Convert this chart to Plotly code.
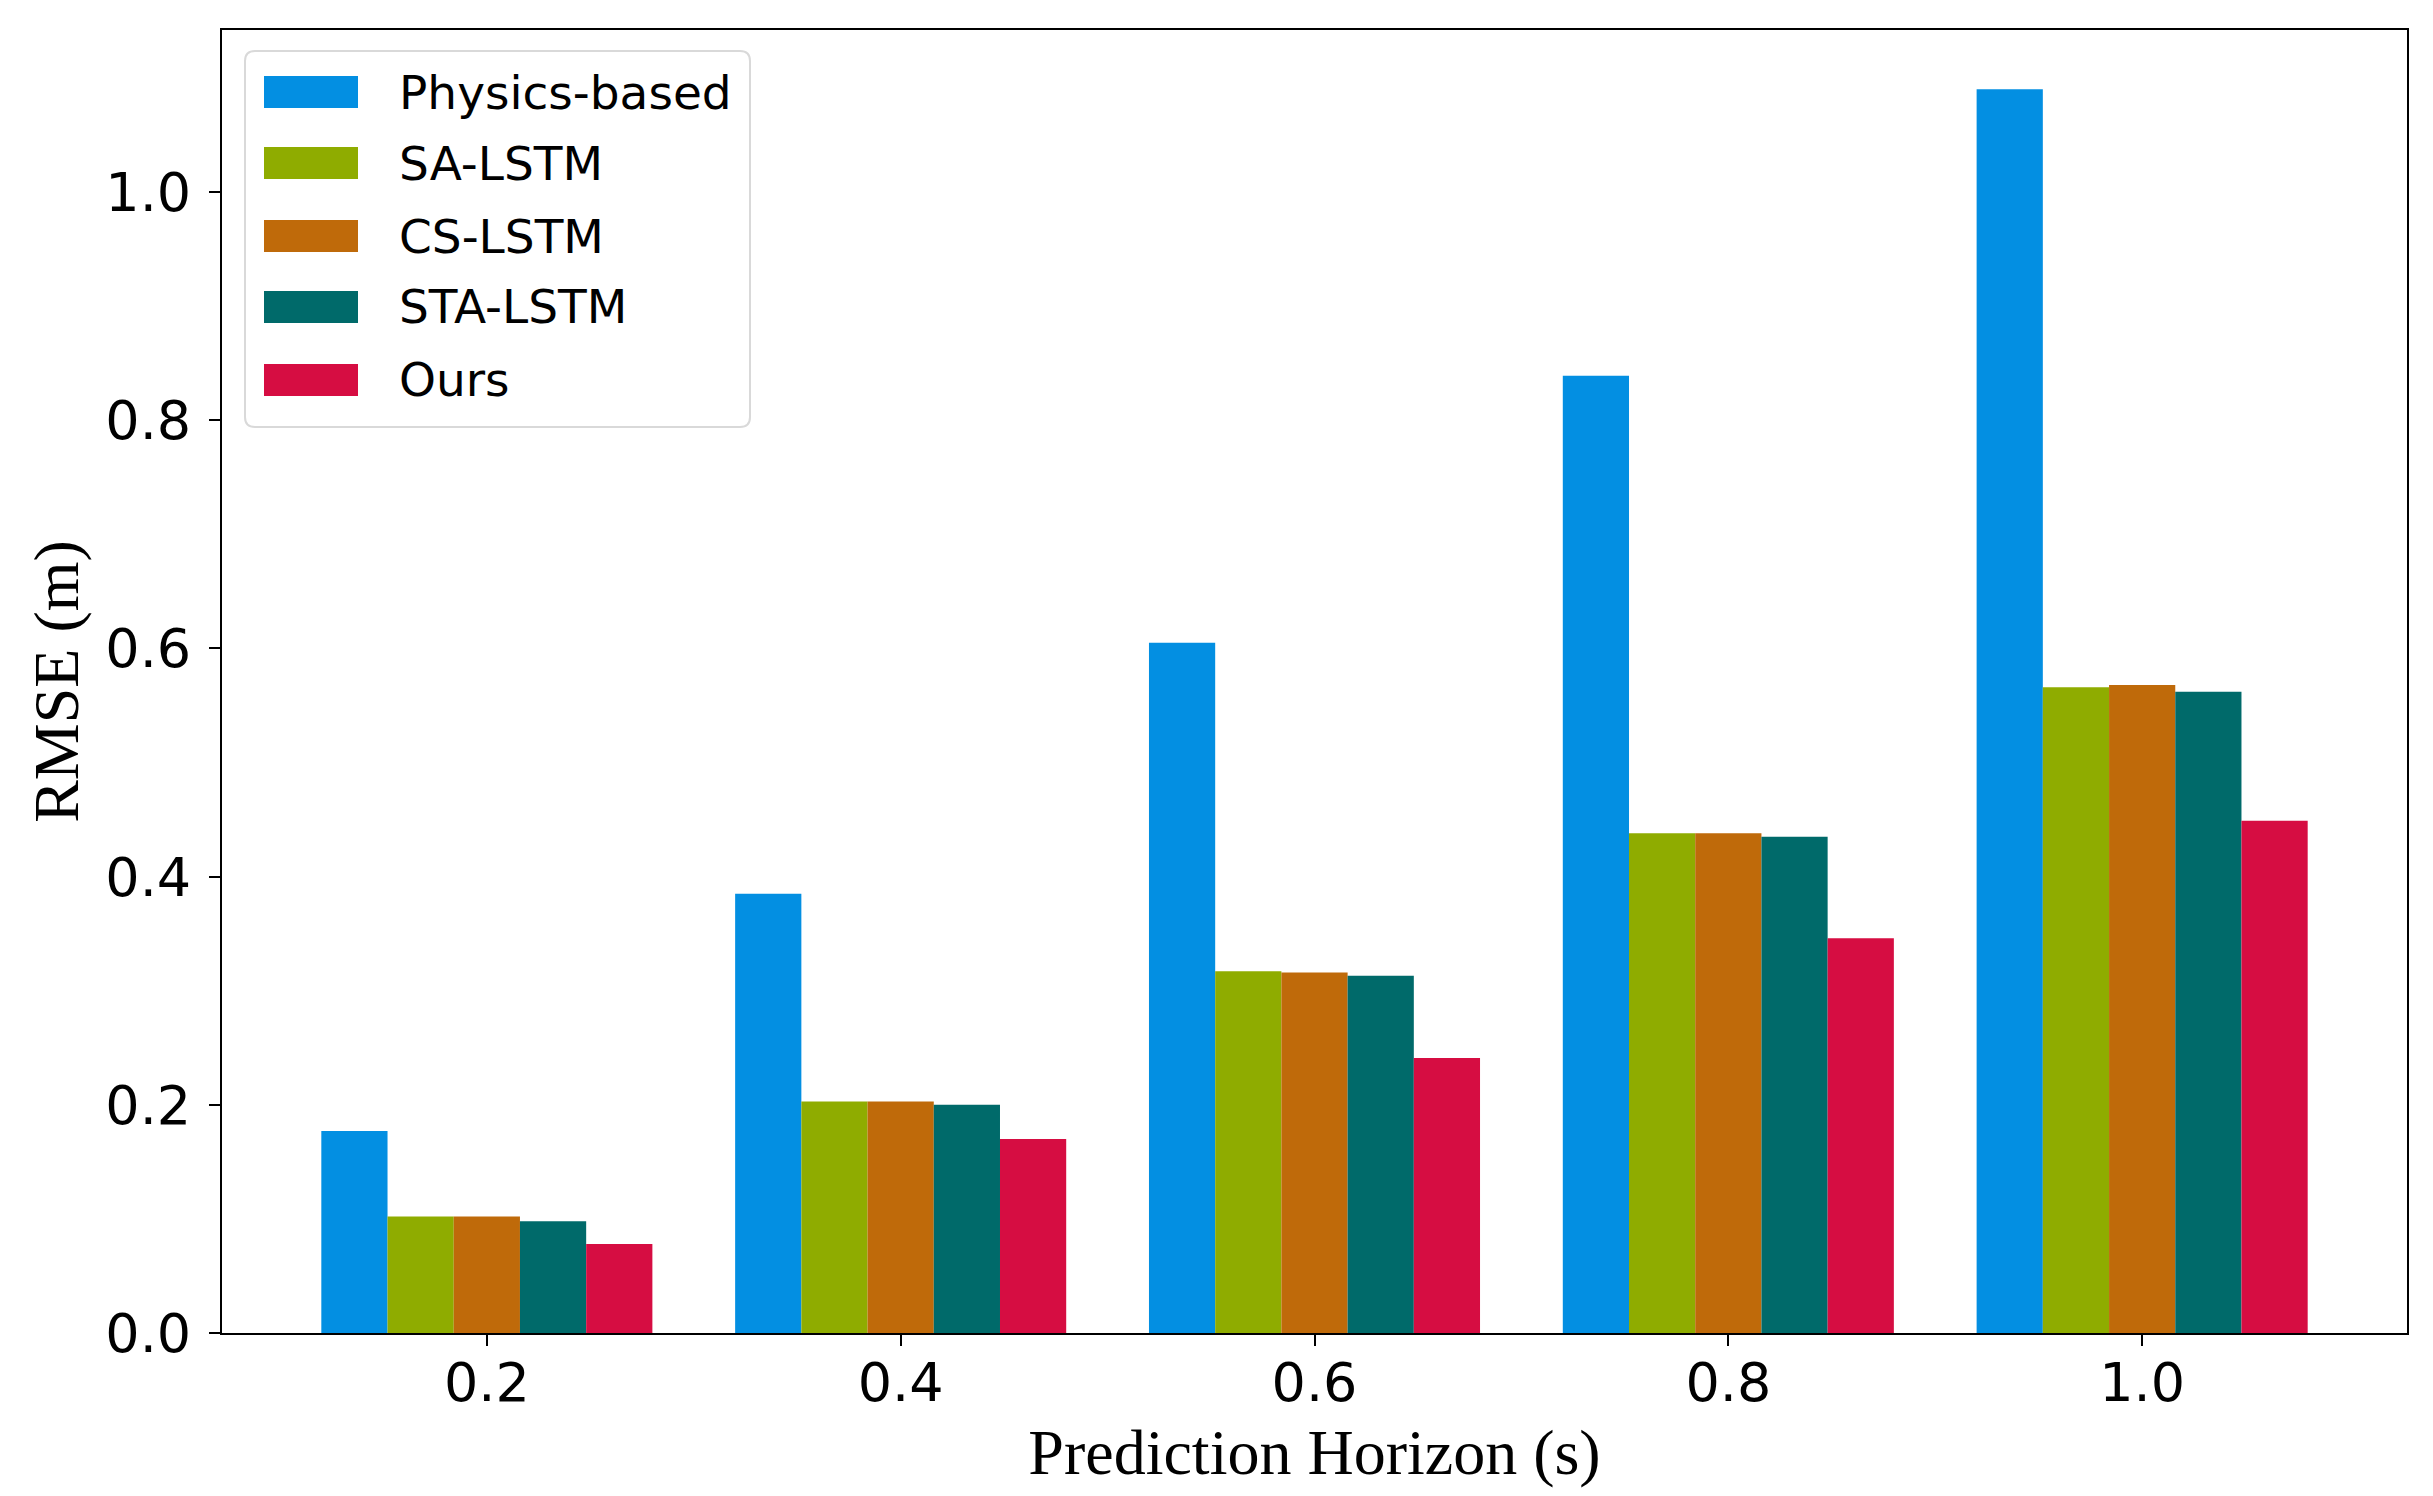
import plotly.graph_objects as go

horizons = ["0.2", "0.4", "0.6", "0.8", "1.0"]
methods = ["Physics-based", "SA-LSTM", "CS-LSTM", "STA-LSTM", "Ours"]
physics_based = [0.177, 0.385, 0.605, 0.839, 1.090]
sa_lstm = [0.102, 0.203, 0.317, 0.438, 0.566]
cs_lstm = [0.102, 0.203, 0.316, 0.438, 0.568]
sta_lstm = [0.098, 0.200, 0.313, 0.435, 0.562]
ours = [0.078, 0.170, 0.241, 0.346, 0.449]
colors = ["#038fe2", "#8fac00", "#bf6a0a", "#006a6a", "#d60d42"]
yticks = [0.0, 0.2, 0.4, 0.6, 0.8, 1.0]

series = [physics_based, sa_lstm, cs_lstm, sta_lstm, ours]

OFF = 8  # page body margin
W, H = 2433, 1496
L, R, T, B = 222 - OFF, 2407 - OFF, 30 - OFF, 1333 - OFF

fig = go.Figure()
for name, vals, col in zip(methods, series, colors):
    fig.add_trace(go.Bar(x=horizons, y=vals, name=name, marker=dict(color=col, line=dict(width=0)),
                         showlegend=False))

def px(x):
    return (x - OFF - L) / (R - L)

def py(y):
    return (B - (y - OFF)) / (B - T)

# legend frame (rounded)
x0, x1, y0, y1 = 245, 750, 51, 427
r = 10
rx = r / (R - L)
ry = r / (B - T)
X0, X1, Y0, Y1 = px(x0), px(x1), py(y1), py(y0)
path = (f"M{X0+rx},{Y0} L{X1-rx},{Y0} Q{X1},{Y0} {X1},{Y0+ry} L{X1},{Y1-ry} Q{X1},{Y1} {X1-rx},{Y1} "
        f"L{X0+rx},{Y1} Q{X0},{Y1} {X0},{Y1-ry} L{X0},{Y0+ry} Q{X0},{Y0} {X0+rx},{Y0} Z")
shapes = [dict(type="path", path=path, xref="paper", yref="paper", line=dict(color="#d9d9d9", width=2),
               fillcolor="rgba(255,255,255,0.8)", layer="above")]
annotations = []
centers = [92, 163, 236, 307, 380]
for name, col, cy in zip(methods, colors, centers):
    shapes.append(dict(type="rect", xref="paper", yref="paper", x0=px(264), x1=px(358),
                       y0=py(cy + 16), y1=py(cy - 16), fillcolor=col, line=dict(width=0), layer="above"))
    annotations.append(dict(text=name, xref="paper", yref="paper", x=px(397), y=py(cy), xanchor="left",
                            yanchor="middle", showarrow=False,
                            font=dict(family="DejaVu Sans", size=47, color="black")))

fig.update_layout(
    width=W, height=H,
    margin=dict(l=L, r=W - R, t=T, b=H - B),
    paper_bgcolor="white", plot_bgcolor="white",
    barmode="group", bargap=0.2, bargroupgap=0,
    shapes=shapes, annotations=annotations,
    font=dict(family="DejaVu Sans", size=54, color="black"),
    xaxis=dict(
        range=[-0.64, 4.64], showline=True, linecolor="black", linewidth=2, mirror=True,
        ticks="outside", ticklen=11, tickwidth=2, tickcolor="black", showgrid=False,
        ticklabelstandoff=-10,
        tickfont=dict(family="DejaVu Sans", size=54, color="black"),
        title=dict(text="Prediction Horizon (s)", standoff=16,
                   font=dict(family="Liberation Serif", size=64, color="black")),
    ),
    yaxis=dict(
        range=[0, 1.142], showline=True, linecolor="black", linewidth=2, mirror=True,
        ticks="outside", ticklen=11, tickwidth=2, tickcolor="black", showgrid=False, zeroline=False,
        ticklabelstandoff=7,
        tickvals=yticks, ticktext=[f"{v:.1f}" for v in yticks],
        tickfont=dict(family="DejaVu Sans", size=54, color="black"),
        title=dict(text="RMSE (m)", standoff=6,
                   font=dict(family="Liberation Serif", size=64, color="black")),
    ),
)

fig.write_html("out.html")
